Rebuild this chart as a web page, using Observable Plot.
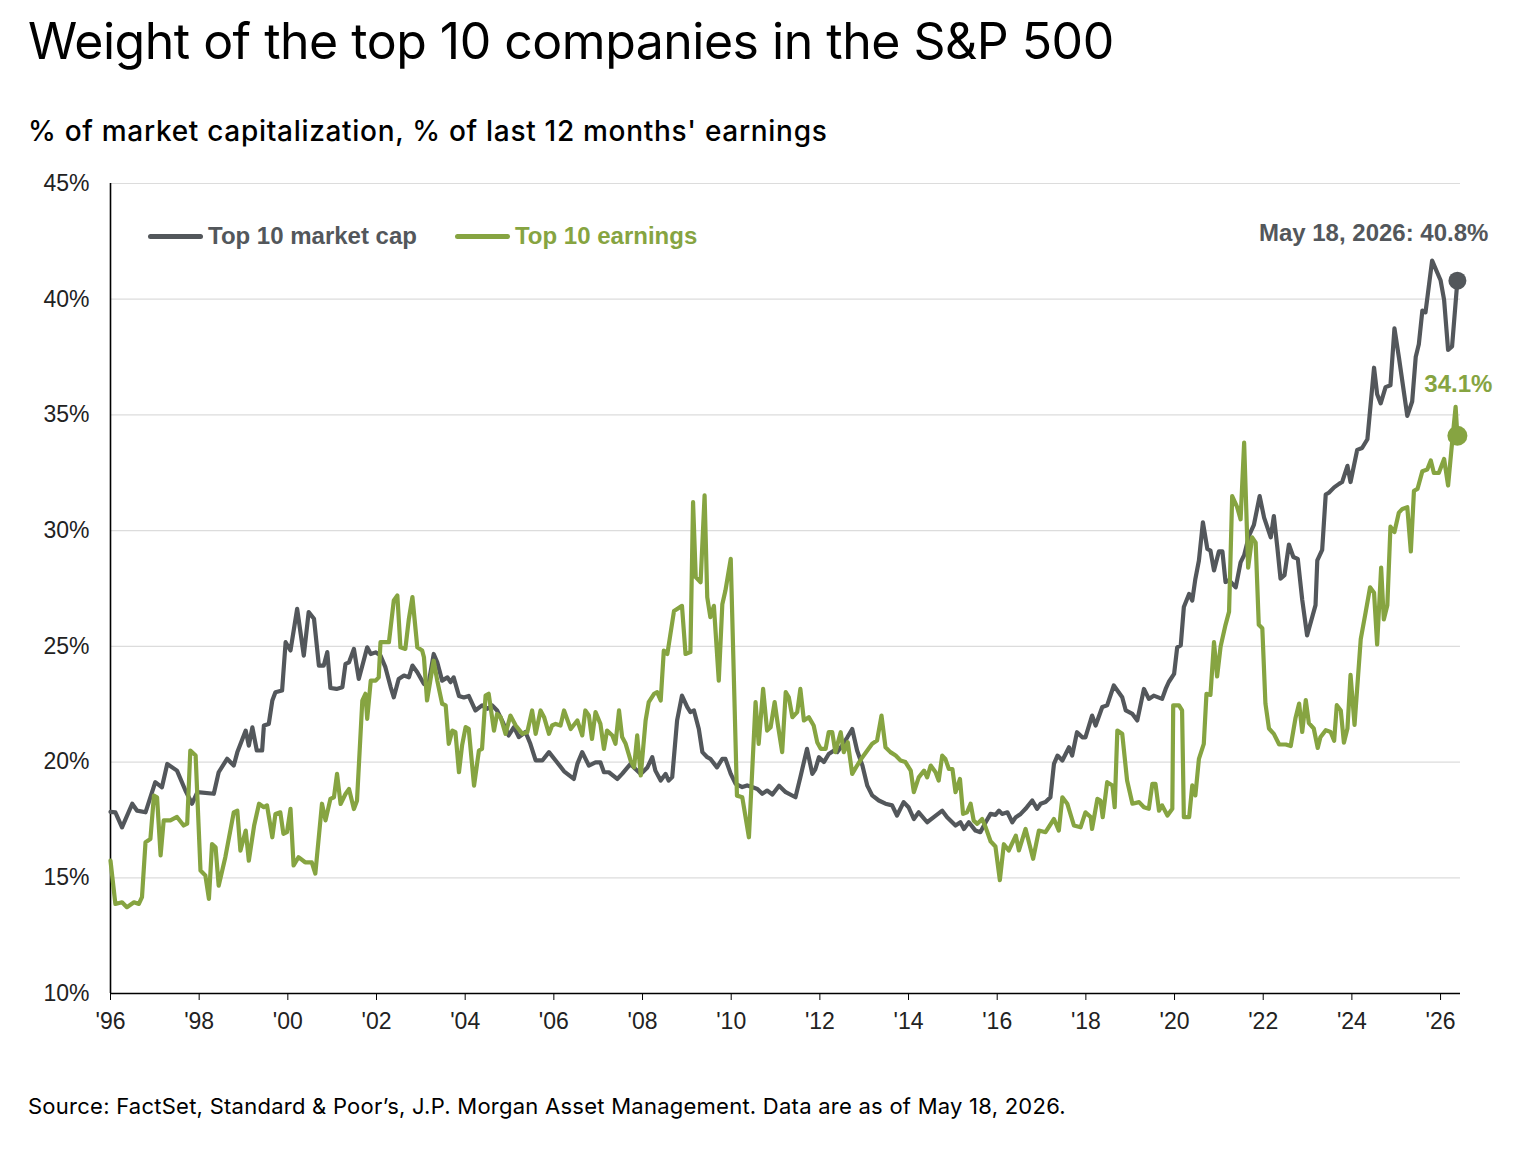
<!DOCTYPE html>
<html>
<head>
<meta charset="utf-8">
<script src="https://cdn.jsdelivr.net/npm/d3@7"></script>
<script src="https://cdn.jsdelivr.net/npm/@observablehq/plot@0.6"></script>
<style>
  html, body { margin: 0; padding: 0; background: #fff; }
  body { width: 1522px; height: 1156px; position: relative; overflow: hidden; }
  #title { position: absolute; left: 28px; top: 11px; font-family: Inter, "Noto Sans", sans-serif; font-size: 50px; font-weight: 400; color: #000; letter-spacing: -0.5px; white-space: nowrap; line-height: 1.2; }
  #subtitle { position: absolute; left: 28px; top: 115px; font-family: Inter, "Noto Sans", sans-serif; font-size: 28px; font-weight: 500; color: #000; letter-spacing: 0.7px; white-space: nowrap; line-height: 1.2; }
  #chart { position: absolute; left: 0; top: 160px; }
  #chart svg { overflow: visible; }
  #legend { position: absolute; left: 148px; top: 221px; height: 30px; display: flex; align-items: center; font-family: "Liberation Sans", Arial, sans-serif; font-weight: bold; font-size: 24px; white-space: nowrap; }
  #legend .sw { display: inline-block; width: 55px; height: 5px; border-radius: 3px; margin-right: 5px; }
  #legend .item { display: flex; align-items: center; margin-right: 38px; }
  #source { position: absolute; left: 28px; top: 1093px; font-family: Inter, "Noto Sans", sans-serif; font-size: 22px; letter-spacing: 0.25px; color: #000; white-space: nowrap; line-height: 1.2; }
</style>
</head>
<body>
<div id="title">Weight of the top 10 companies in the S&amp;P 500</div>
<div id="subtitle">% of market capitalization, % of last 12 months' earnings</div>
<div id="chart"></div>
<div id="legend"></div>
<div id="source">Source: FactSet, Standard &amp; Poor’s, J.P. Morgan Asset Management. Data are as of May 18, 2026.</div>
<script>
// ---- Data (decimal year, % weight) ----
const marketCap = [
  [1996.00,17.85],[1996.11,17.83],[1996.26,17.18],[1996.49,18.2],[1996.6,17.9],[1996.79,17.83],
  [1997.01,19.13],[1997.16,18.91],[1997.28,19.92],[1997.5,19.63],[1997.69,18.77],[1997.84,18.2],[1997.96,18.7],
  [1998.33,18.63],[1998.44,19.56],[1998.63,20.14],[1998.78,19.85],[1998.86,20.42],
  [1999.05,21.36],[1999.12,20.71],[1999.2,21.5],[1999.3,20.5],[1999.42,20.5],[1999.46,21.58],[1999.57,21.65],[1999.65,22.66],[1999.72,23.02],[1999.87,23.09],[1999.95,25.18],
  [2000.06,24.82],[2000.21,26.62],[2000.36,24.6],[2000.47,26.48],[2000.59,26.19],[2000.7,24.17],[2000.81,24.17],[2000.89,24.75],[2000.96,23.2],
  [2001.1,23.16],[2001.23,23.23],[2001.3,24.24],[2001.38,24.31],[2001.49,24.89],[2001.6,23.59],[2001.71,24.38],[2001.79,24.96],[2001.87,24.67],[2001.98,24.74],
  [2002.09,24.6],[2002.2,24.1],[2002.32,23.23],[2002.39,22.8],[2002.5,23.59],[2002.62,23.74],[2002.73,23.66],[2002.81,24.17],[2002.92,23.88],
  [2003.07,23.37],[2003.18,23.45],[2003.29,24.67],[2003.37,24.31],[2003.48,23.52],[2003.6,23.66],[2003.67,23.45],[2003.74,23.66],[2003.86,22.86],[2003.97,22.79],
  [2004.08,22.86],[2004.23,22.23],[2004.38,22.45],[2004.5,22.3],[2004.61,22.45],[2004.72,22.23],[2004.83,21.8],[2004.98,21.15],
  [2005.1,21.51],[2005.21,21.08],[2005.36,21.3],[2005.47,20.79],[2005.59,20.07],[2005.74,20.07],[2005.89,20.43],
  [2006.04,20.07],[2006.23,19.6],[2006.45,19.27],[2006.53,19.92],[2006.64,20.43],[2006.79,19.85],[2006.94,19.99],
  [2007.05,19.99],[2007.13,19.56],[2007.24,19.56],[2007.43,19.27],[2007.54,19.49],[2007.73,19.92],[2007.84,19.7],[2007.96,19.49],
  [2008.11,19.77],[2008.22,20.21],[2008.29,19.63],[2008.41,19.2],[2008.52,19.49],[2008.59,19.2],[2008.67,19.35],[2008.78,21.8],[2008.89,22.87],
  [2009.01,22.37],[2009.08,22.16],[2009.16,22.23],[2009.27,21.43],[2009.35,20.43],[2009.46,20.21],[2009.53,20.14],[2009.68,19.77],[2009.8,20.14],[2009.87,20.14],[2009.99,19.49],
  [2010.1,19.06],[2010.25,18.92],[2010.36,18.99],[2010.47,18.92],[2010.59,18.84],[2010.7,18.63],[2010.81,18.77],[2010.93,18.6],
  [2011.08,18.98],[2011.23,18.7],[2011.45,18.48],[2011.56,19.34],[2011.71,20.57],[2011.83,19.49],[2011.9,19.7],[2011.98,20.21],
  [2012.09,20.0],[2012.2,20.35],[2012.32,20.5],[2012.39,20.43],[2012.5,20.71],[2012.62,21.07],[2012.73,21.43],[2012.84,20.5],[2012.96,19.85],
  [2013.07,18.98],[2013.18,18.56],[2013.33,18.34],[2013.48,18.2],[2013.63,18.13],[2013.74,17.69],[2013.89,18.27],
  [2014.0,18.05],[2014.12,17.54],[2014.23,17.83],[2014.42,17.4],[2014.57,17.62],[2014.76,17.9],[2014.87,17.62],
  [2015.06,17.26],[2015.17,17.4],[2015.25,17.11],[2015.36,17.4],[2015.51,17.04],[2015.62,16.97],[2015.74,17.4],[2015.85,17.76],[2015.96,17.72],
  [2016.04,17.9],[2016.11,17.76],[2016.23,17.83],[2016.34,17.4],[2016.42,17.62],[2016.53,17.76],[2016.64,17.98],[2016.79,18.34],[2016.9,17.98],[2016.98,18.2],
  [2017.09,18.27],[2017.2,18.48],[2017.28,19.92],[2017.36,20.28],[2017.47,20.07],[2017.62,20.64],[2017.69,20.28],[2017.8,21.29],[2017.92,21.07],[2017.99,21.07],
  [2018.14,22.01],[2018.22,21.58],[2018.37,22.38],[2018.48,22.45],[2018.63,23.31],[2018.82,22.8],[2018.9,22.23],
  [2019.05,22.08],[2019.16,21.8],[2019.31,23.16],[2019.42,22.73],[2019.53,22.87],[2019.72,22.73],[2019.8,23.16],[2019.87,23.46],[2019.99,23.81],
  [2020.06,24.96],[2020.14,25.04],[2020.21,26.7],[2020.33,27.27],[2020.4,26.98],[2020.47,27.92],[2020.55,28.71],[2020.64,30.36],[2020.74,29.21],[2020.81,29.14],[2020.89,28.28],
  [2021.0,29.1],[2021.08,29.1],[2021.15,27.78],[2021.23,27.86],[2021.38,27.55],[2021.49,28.63],[2021.57,28.94],[2021.68,29.79],[2021.79,30.25],[2021.92,31.49],
  [2022.02,30.56],[2022.17,29.71],[2022.24,30.63],[2022.32,29.25],[2022.39,27.93],[2022.48,28.08],[2022.58,29.4],[2022.68,28.86],[2022.78,28.78],[2022.88,27.01],[2022.99,25.47],
  [2023.18,26.78],[2023.22,28.71],[2023.33,29.17],[2023.41,31.56],[2023.48,31.64],[2023.6,31.87],[2023.71,32.02],[2023.78,32.1],[2023.9,32.8],[2023.97,32.1],
  [2024.12,33.49],[2024.23,33.57],[2024.35,33.95],[2024.5,37.04],[2024.57,35.89],[2024.65,35.5],[2024.76,36.2],[2024.87,36.28],[2024.96,38.74],
  [2025.06,37.5],[2025.25,34.96],[2025.36,35.58],[2025.44,37.5],[2025.51,38.05],[2025.59,39.51],[2025.66,39.43],[2025.81,41.67],
  [2026.0,40.82],[2026.08,39.97],[2026.17,37.81],[2026.26,37.96],[2026.38,40.8]
];

const earnings = [
  [1996.0,15.74],[1996.11,13.87],[1996.26,13.94],[1996.37,13.73],[1996.53,13.94],[1996.64,13.87],[1996.71,14.16],[1996.79,16.54],[1996.9,16.68],[1996.98,18.55],
  [1997.05,18.48],[1997.13,15.97],[1997.2,17.48],[1997.35,17.48],[1997.5,17.63],[1997.65,17.26],[1997.73,17.34],[1997.8,20.5],[1997.92,20.28],
  [1998.03,15.31],[1998.14,15.1],[1998.22,14.09],[1998.29,16.46],[1998.37,16.32],[1998.44,14.66],[1998.59,15.89],[1998.78,17.83],[1998.86,17.9],[1998.93,16.17],
  [1999.05,17.04],[1999.12,15.74],[1999.24,17.26],[1999.35,18.2],[1999.46,18.05],[1999.53,18.13],[1999.65,16.75],[1999.72,17.76],[1999.83,17.83],[1999.9,16.9],[1999.98,16.97],
  [2000.06,17.98],[2000.13,15.53],[2000.24,15.89],[2000.39,15.67],[2000.54,15.67],[2000.62,15.18],[2000.77,18.2],[2000.85,17.48],[2000.96,18.41],
  [2001.04,18.48],[2001.11,19.49],[2001.19,18.19],[2001.3,18.62],[2001.38,18.84],[2001.49,17.97],[2001.56,18.33],[2001.68,22.66],[2001.75,22.95],[2001.79,21.87],[2001.87,23.52],[2001.98,23.52],
  [2002.05,23.66],[2002.09,25.18],[2002.28,25.18],[2002.39,26.98],[2002.47,27.2],[2002.54,24.96],[2002.65,24.89],[2002.73,26.19],[2002.81,27.13],[2002.92,24.96],
  [2003.03,24.82],[2003.07,24.53],[2003.14,22.66],[2003.22,23.59],[2003.29,24.38],[2003.37,23.52],[2003.48,22.52],[2003.56,22.45],[2003.63,20.79],[2003.71,21.36],[2003.78,21.29],[2003.86,19.56],[2003.93,20.72],
  [2004.01,21.51],[2004.08,21.44],[2004.2,18.98],[2004.31,20.5],[2004.38,20.57],[2004.46,22.87],[2004.53,22.95],[2004.65,21.36],[2004.72,22.08],[2004.8,21.94],[2004.91,21.22],
  [2005.02,22.01],[2005.14,21.58],[2005.29,21.22],[2005.4,21.29],[2005.51,22.23],[2005.59,21.22],[2005.7,22.23],[2005.78,21.94],[2005.89,21.22],[2005.96,21.58],
  [2006.04,21.65],[2006.15,21.58],[2006.23,22.23],[2006.38,21.43],[2006.53,21.8],[2006.64,21.15],[2006.71,22.23],[2006.79,22.01],[2006.86,21.0],[2006.94,22.16],
  [2007.05,21.65],[2007.13,20.57],[2007.2,21.36],[2007.32,21.15],[2007.39,20.79],[2007.47,22.23],[2007.54,21.08],[2007.62,20.79],[2007.73,20.07],[2007.81,19.77],[2007.88,21.15],[2007.96,19.42],
  [2008.07,21.8],[2008.14,22.59],[2008.26,22.95],[2008.33,23.02],[2008.41,22.66],[2008.48,24.82],[2008.56,24.67],[2008.71,26.53],[2008.89,26.75],[2008.97,24.67],
  [2009.08,24.75],[2009.14,31.23],[2009.2,27.99],[2009.31,27.77],[2009.4,31.52],[2009.46,27.12],[2009.53,26.26],[2009.61,26.75],[2009.72,23.52],[2009.8,26.82],[2009.87,27.41],[2009.99,28.78],
  [2010.13,18.55],[2010.25,18.48],[2010.4,16.75],[2010.55,22.59],[2010.62,20.79],[2010.72,23.16],[2010.81,21.36],[2010.89,21.51],[2010.98,22.59],
  [2011.05,21.65],[2011.15,20.43],[2011.23,23.02],[2011.3,22.8],[2011.38,21.94],[2011.49,22.16],[2011.56,23.16],[2011.64,21.8],[2011.75,21.94],[2011.86,21.58],[2011.94,20.86],
  [2012.02,20.57],[2012.13,20.57],[2012.2,21.29],[2012.28,21.29],[2012.35,20.43],[2012.47,21.29],[2012.54,20.43],[2012.63,20.86],[2012.73,19.49],[2012.84,19.85],[2012.96,20.21],
  [2013.07,20.5],[2013.18,20.79],[2013.29,20.93],[2013.39,22.01],[2013.48,20.64],[2013.59,20.43],[2013.71,20.28],[2013.82,20.07],[2013.93,20.0],
  [2014.05,19.63],[2014.12,18.7],[2014.23,19.34],[2014.35,19.63],[2014.42,19.34],[2014.5,19.85],[2014.61,19.56],[2014.68,19.2],[2014.76,20.28],[2014.83,20.14],[2014.91,19.7],[2014.99,19.7],
  [2015.06,18.7],[2015.16,19.27],[2015.23,17.76],[2015.32,17.83],[2015.4,18.2],[2015.47,17.47],[2015.55,17.33],[2015.66,17.54],[2015.74,17.18],[2015.85,16.58],[2015.96,16.35],
  [2016.06,14.9],[2016.15,16.45],[2016.26,16.18],[2016.42,16.82],[2016.49,16.18],[2016.64,17.11],[2016.81,15.82],[2016.94,17.04],
  [2017.09,16.97],[2017.28,17.54],[2017.39,17.04],[2017.47,18.48],[2017.58,18.2],[2017.73,17.26],[2017.88,17.18],[2017.99,17.83],
  [2018.11,17.62],[2018.14,17.11],[2018.26,18.41],[2018.33,18.34],[2018.38,17.62],[2018.48,19.13],[2018.6,18.99],[2018.65,18.05],[2018.71,21.36],[2018.82,21.22],[2018.93,19.2],
  [2019.05,18.2],[2019.2,18.27],[2019.31,18.05],[2019.42,17.98],[2019.5,19.06],[2019.57,19.06],[2019.65,17.9],[2019.72,18.13],[2019.84,17.69],[2019.95,17.98],[2019.97,22.45],
  [2020.1,22.45],[2020.17,22.23],[2020.21,17.62],[2020.33,17.62],[2020.4,18.99],[2020.47,18.56],[2020.55,20.14],[2020.66,20.79],[2020.72,22.95],[2020.81,22.9],[2020.89,25.18],[2020.96,23.7],
  [2021.04,25.0],[2021.15,25.93],[2021.23,26.5],[2021.3,31.49],[2021.41,31.03],[2021.49,30.49],[2021.57,33.8],[2021.66,28.4],[2021.75,29.71],[2021.83,29.48],[2021.9,25.93],[2021.98,25.78],
  [2022.05,22.53],[2022.13,21.45],[2022.24,21.22],[2022.36,20.76],[2022.51,20.76],[2022.62,20.69],[2022.73,21.92],[2022.81,22.53],[2022.88,21.3],[2022.96,22.68],
  [2023.03,21.68],[2023.14,21.45],[2023.23,20.61],[2023.29,21.07],[2023.41,21.38],[2023.52,21.3],[2023.6,20.92],[2023.66,22.46],[2023.75,22.23],[2023.82,20.84],[2023.9,21.45],[2023.97,23.77],
  [2024.06,21.61],[2024.2,25.31],[2024.31,26.47],[2024.41,27.55],[2024.5,27.32],[2024.57,25.08],[2024.66,28.4],[2024.72,26.16],[2024.8,26.78],[2024.87,30.17],[2024.96,29.94],
  [2025.06,30.78],[2025.14,30.94],[2025.25,31.01],[2025.33,29.1],[2025.4,31.72],[2025.48,31.8],[2025.59,32.57],[2025.7,32.64],[2025.78,33.03],[2025.85,32.49],[2025.96,32.49],
  [2026.08,33.1],[2026.17,31.95],[2026.26,33.8],[2026.34,35.35],[2026.38,34.1]
];

const seriesNames = ["Top 10 market cap", "Top 10 earnings"];
const seriesColors = ["#53575b", "#86a441"];
const xTickYears = [1996, 1998, 2000, 2002, 2004, 2006, 2008, 2010, 2012, 2014, 2016, 2018, 2020, 2022, 2024, 2026];
const yTickValues = [10, 15, 20, 25, 30, 35, 40, 45];
const lastDateLabel = "May 18, 2026";

// ---- Build rows ----
const capRows = marketCap.map(([t, v]) => ({t, v}));
const earnRows = earnings.map(([t, v]) => ({t, v}));
const lastCap = capRows[capRows.length - 1];
const lastEarn = earnRows[earnRows.length - 1];

const chart = Plot.plot({
  width: 1522,
  height: 883,
  marginLeft: 110,
  marginRight: 62,
  marginTop: 23,
  marginBottom: 50,
  x: {type: "linear", domain: [1996, 2026.45]},
  y: {type: "linear", domain: [10, 45]},
  style: {fontFamily: "'Liberation Sans', Arial, sans-serif", fontSize: "23px", color: "#222", background: "transparent"},
  marks: [
    Plot.gridY(yTickValues.filter(d => d > 10), {stroke: "#dcdcdc", strokeOpacity: 1, strokeWidth: 1.2}),
    Plot.axisY(yTickValues, {tickSize: 0, tickPadding: 21, tickFormat: d => d + "%", fontSize: 23, label: null}),
    Plot.axisX(xTickYears, {tickSize: 7, tickPadding: 12, tickFormat: d => "'" + String(d % 100).padStart(2, "0"), fontSize: 23, label: null, stroke: "#000"}),
    Plot.ruleX([1996], {stroke: "#000", strokeWidth: 1.6}),
    Plot.ruleY([10], {stroke: "#000", strokeWidth: 1.6}),
    Plot.line(capRows, {x: "t", y: "v", stroke: seriesColors[0], strokeWidth: 4.2, strokeLinejoin: "round"}),
    Plot.line(earnRows, {x: "t", y: "v", stroke: seriesColors[1], strokeWidth: 4.2, strokeLinejoin: "round"}),
    Plot.dot([lastCap], {x: "t", y: "v", r: 9, fill: seriesColors[0], stroke: null}),
    Plot.dot([lastEarn], {x: "t", y: "v", r: 10, fill: seriesColors[1], stroke: null}),
    Plot.text([lastCap], {x: "t", y: "v", text: d => `${lastDateLabel}: ${d.v.toFixed(1)}%`, dx: 31, dy: -47, textAnchor: "end", fontWeight: "bold", fontSize: 24, fill: seriesColors[0]}),
    Plot.text([lastEarn], {x: "t", y: "v", text: d => `${d.v.toFixed(1)}%`, dx: 35, dy: -51, textAnchor: "end", fontWeight: "bold", fontSize: 24, fill: seriesColors[1]})
  ]
});
document.getElementById("chart").appendChild(chart);

// ---- Legend ----
const legend = document.getElementById("legend");
seriesNames.forEach((name, i) => {
  const item = document.createElement("div");
  item.className = "item";
  const sw = document.createElement("span");
  sw.className = "sw";
  sw.style.background = seriesColors[i];
  const lab = document.createElement("span");
  lab.textContent = name;
  lab.style.color = seriesColors[i];
  item.appendChild(sw);
  item.appendChild(lab);
  legend.appendChild(item);
});
</script>
</body>
</html>
